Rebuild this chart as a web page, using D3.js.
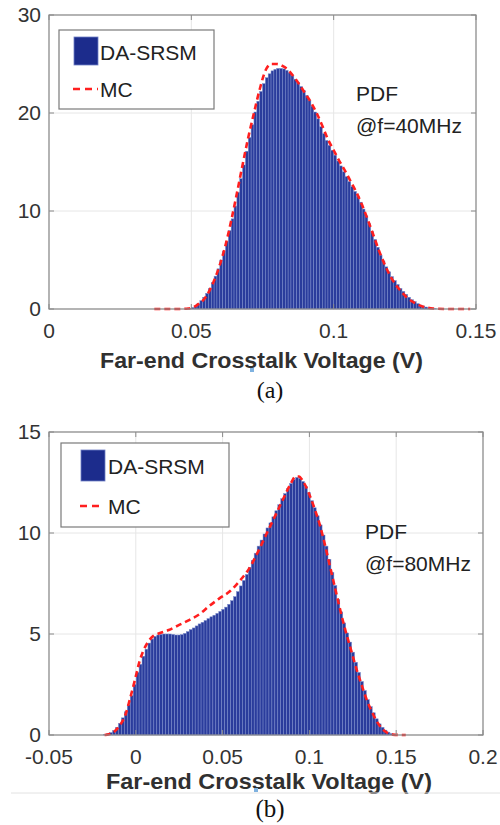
<!DOCTYPE html>
<html lang="en">
<head>
    <meta charset="UTF-8">
    <title>Far-end Crosstalk Voltage PDF</title>
    <script src="https://d3js.org/d3.v7.min.js"></script>
    <style>
        body {
            margin: 0;
            background-color: #ffffff;
            font-family: 'Liberation Sans', Arial, sans-serif;
        }
        .tick-label {
            font-size: 21px;
            fill: #333333;
        }
        .axis-title {
            font-size: 22px;
            font-weight: bold;
            fill: #303030;
        }
        .legend-text, .note {
            font-size: 21px;
            fill: #222222;
        }
        .caption {
            font-family: 'Liberation Serif', 'Times New Roman', serif;
            fill: #111111;
        }
    </style>
</head>
<body>
    <svg id="chart"></svg>

    <script>
        // (a) f = 40 MHz : DA-SRSM histogram, bins of 0.001 V starting at 0.049 V
        const pdf40BinStart = 0.049;
        const pdf40BinWidth = 0.001;
        const pdf40 = [
            0.05, 0.15, 0.3, 0.55, 0.85, 1.2, 1.6, 2.1, 2.7, 3.35,
            4.1, 5.0, 5.9, 6.9, 8.0, 9.2, 10.5, 11.9, 13.3, 14.7,
            16.1, 17.5, 18.8, 20.1, 21.2, 22.2, 23.0, 23.6, 24.0, 24.3,
            24.45, 24.55, 24.55, 24.5, 24.35, 24.1, 23.8, 23.45, 23.1, 22.7,
            22.3, 21.8, 21.3, 20.7, 20.1, 19.4, 18.6, 17.9, 17.2, 16.7,
            16.2, 15.7, 15.1, 14.6, 14.0, 13.5, 13.0, 12.5, 12.0, 11.5,
            10.9, 10.2, 9.5, 8.7, 7.9, 7.1, 6.3, 5.5, 4.9, 4.3,
            3.8, 3.3, 2.9, 2.5, 2.1, 1.8, 1.5, 1.2, 0.95, 0.75,
            0.55, 0.4, 0.3, 0.2, 0.12, 0.07, 0.03
        ];
        // (a) MC reference curve
        const mc40X = [0.037, 0.045, 0.049, 0.052, 0.055, 0.058, 0.060, 0.062, 0.064, 0.066,
            0.068, 0.070, 0.072, 0.074, 0.076, 0.078, 0.080, 0.082, 0.084, 0.086,
            0.088, 0.090, 0.092, 0.094, 0.096, 0.098, 0.100, 0.102, 0.104, 0.106,
            0.108, 0.110, 0.112, 0.114, 0.116, 0.118, 0.120, 0.122, 0.124, 0.126,
            0.128, 0.130, 0.132, 0.135, 0.140, 0.148];
        const mc40Y = [0, 0, 0.05, 0.4, 1.2, 2.9, 4.5, 6.5, 9.0, 11.8,
            14.7, 17.5, 20.0, 22.4, 24.3, 25.0, 25.0, 24.8, 24.4, 23.7,
            22.9, 22.0, 21.1, 20.0, 18.7, 17.3, 16.2, 15.1, 14.1, 13.0,
            11.9, 10.6, 9.1, 7.5, 5.9, 4.5, 3.3, 2.4, 1.7, 1.1,
            0.7, 0.4, 0.2, 0.05, 0, 0];
        const xTicks40 = [0, 0.05, 0.1, 0.15];
        const yTicks40 = [0, 10, 20, 30];

        // (b) f = 80 MHz : DA-SRSM histogram, bins of 0.0017 V starting at -0.0185 V
        const pdf80BinStart = -0.0185;
        const pdf80BinWidth = 0.0017;
        const pdf80 = [
            0.02, 0.06, 0.12, 0.22, 0.38, 0.58, 0.85, 1.15, 1.5, 1.95,
            2.5, 3.1, 3.5, 3.9, 4.25, 4.55, 4.75, 4.88, 4.95, 4.98,
            5.0, 5.0, 5.0, 4.98, 4.95, 4.95, 4.97, 5.03, 5.12, 5.22,
            5.3, 5.4, 5.5, 5.58, 5.67, 5.76, 5.85, 5.93, 6.02, 6.12,
            6.22, 6.33, 6.47, 6.65, 6.85, 7.1, 7.38, 7.65, 7.95, 8.3,
            8.65, 9.0, 9.35, 9.65, 9.95, 10.25, 10.5, 10.8, 11.1, 11.4,
            11.7, 11.95, 12.2, 12.45, 12.65, 12.75, 12.7, 12.55, 12.3, 12.0,
            11.6, 11.25, 10.85, 10.4, 9.9, 9.35, 8.7, 8.05, 7.4, 6.7,
            6.1, 5.55, 5.05, 4.6, 4.1, 3.6, 3.1, 2.65, 2.2, 1.75,
            1.4, 1.1, 0.8, 0.55, 0.38, 0.24, 0.14, 0.07, 0.03
        ];
        // (b) MC reference curve
        const mc80X = [-0.018, -0.015, -0.012, -0.009, -0.006, -0.003, 0.000, 0.002, 0.004, 0.007,
            0.010, 0.014, 0.019, 0.025, 0.031, 0.037, 0.0425, 0.048, 0.054, 0.058,
            0.0615, 0.065, 0.070, 0.075, 0.080, 0.085, 0.089, 0.092, 0.094, 0.096,
            0.098, 0.100, 0.103, 0.106, 0.109, 0.112, 0.115, 0.118, 0.121, 0.124,
            0.127, 0.130, 0.133, 0.136, 0.139, 0.142, 0.145, 0.148, 0.1555];
        const mc80Y = [0, 0.05, 0.2, 0.5, 1.0, 1.9, 2.9, 3.6, 4.1, 4.6,
            4.9, 5.05, 5.2, 5.45, 5.7, 6.0, 6.4, 6.75, 7.1, 7.45,
            7.8, 8.2, 9.0, 9.9, 10.8, 11.7, 12.4, 12.8, 12.8, 12.6,
            12.3, 11.9, 11.2, 10.4, 9.4, 8.3, 7.2, 6.1, 5.1, 4.2,
            3.3, 2.5, 1.75, 1.15, 0.65, 0.3, 0.1, 0.02, 0];
        const xTicks80 = [-0.05, 0, 0.05, 0.1, 0.15, 0.2];
        const yTicks80 = [0, 5, 10, 15];

        const legendLabels = ["DA-SRSM", "MC"];
        const xTitle = "Far-end Crosstalk Voltage (V)";

        const W = 500, H = 825;
        const svg = d3.select("#chart").attr("width", W).attr("height", H);

        function drawPanel(p) {
            const x = d3.scaleLinear().domain(p.xDomain).range([p.left, p.right]);
            const y = d3.scaleLinear().domain(p.yDomain).range([p.bottom, p.top]);
            const g = svg.append("g");

            // grid
            g.selectAll(".gx").data(p.xTicks).enter().append("line")
                .attr("x1", d => x(d)).attr("x2", d => x(d))
                .attr("y1", p.top).attr("y2", p.bottom)
                .attr("stroke", "#e6e6e6").attr("stroke-width", 1);
            g.selectAll(".gy").data(p.yTicks).enter().append("line")
                .attr("y1", d => y(d)).attr("y2", d => y(d))
                .attr("x1", p.left).attr("x2", p.right)
                .attr("stroke", "#e6e6e6").attr("stroke-width", 1);

            // histogram bars
            const bw = x(p.binWidth) - x(0);
            g.selectAll(".bar").data(p.bars).enter().append("rect")
                .attr("x", (d, i) => x(p.binStart + i * p.binWidth))
                .attr("y", d => y(d))
                .attr("width", bw)
                .attr("height", d => y(0) - y(d))
                .attr("fill", "#2a3c9c")
                .attr("stroke", "#7d8dcc")
                .attr("stroke-width", 0.5);

            // MC dashed curve
            const line = d3.line()
                .x((d, i) => x(p.mcX[i]))
                .y(d => y(d))
                .curve(d3.curveMonotoneX);
            g.append("path")
                .datum(p.mcY)
                .attr("d", line)
                .attr("fill", "none")
                .attr("stroke", "#ff1f1f")
                .attr("stroke-width", 2.6)
                .attr("stroke-dasharray", "6,4");

            // axes box
            g.append("rect")
                .attr("x", p.left).attr("y", p.top)
                .attr("width", p.right - p.left).attr("height", p.bottom - p.top)
                .attr("fill", "none").attr("stroke", "#8a8a8a").attr("stroke-width", 1.2);

            // inward ticks on all sides
            p.xTicks.forEach(t => {
                g.append("line").attr("x1", x(t)).attr("x2", x(t))
                    .attr("y1", p.bottom).attr("y2", p.bottom - 5).attr("stroke", "#8a8a8a");
                g.append("line").attr("x1", x(t)).attr("x2", x(t))
                    .attr("y1", p.top).attr("y2", p.top + 5).attr("stroke", "#8a8a8a");
            });
            p.yTicks.forEach(t => {
                g.append("line").attr("y1", y(t)).attr("y2", y(t))
                    .attr("x1", p.left).attr("x2", p.left + 5).attr("stroke", "#8a8a8a");
                g.append("line").attr("y1", y(t)).attr("y2", y(t))
                    .attr("x1", p.right).attr("x2", p.right - 5).attr("stroke", "#8a8a8a");
            });

            // tick labels
            g.selectAll(".xl").data(p.xTicks).enter().append("text")
                .attr("class", "tick-label")
                .attr("x", d => x(d)).attr("y", p.bottom + 29)
                .attr("text-anchor", "middle")
                .text(d => String(d));
            g.selectAll(".yl").data(p.yTicks).enter().append("text")
                .attr("class", "tick-label")
                .attr("x", p.left - 8).attr("y", d => y(d) + 7)
                .attr("text-anchor", "end")
                .text(d => String(d));

            // x axis title
            g.append("text")
                .attr("class", "axis-title")
                .attr("x", p.titleX).attr("y", p.titleY)
                .attr("textLength", p.titleLen)
                .attr("lengthAdjust", "spacingAndGlyphs")
                .text(xTitle);

            // legend
            const L = p.legend;
            g.append("rect")
                .attr("x", L.x).attr("y", L.y).attr("width", L.w).attr("height", L.h)
                .attr("fill", "#ffffff").attr("stroke", "#7a7a7a").attr("stroke-width", 1.2);
            g.append("rect")
                .attr("x", L.swX).attr("y", L.swY).attr("width", 24).attr("height", L.swH)
                .attr("fill", "#1c2c8c").attr("stroke", "#6f7fc6").attr("stroke-width", 0.8);
            g.append("text").attr("class", "legend-text")
                .attr("x", L.textX).attr("y", L.row1).text(legendLabels[0]);
            g.append("line")
                .attr("x1", L.dashX1).attr("x2", L.dashX2)
                .attr("y1", L.dashY).attr("y2", L.dashY)
                .attr("stroke", "#ff1f1f").attr("stroke-width", 2.6)
                .attr("stroke-dasharray", "7,5");
            g.append("text").attr("class", "legend-text")
                .attr("x", L.textX).attr("y", L.row2).text(legendLabels[1]);

            // annotation
            g.append("text").attr("class", "note")
                .attr("x", p.noteX).attr("y", p.noteY).text("PDF");
            g.append("text").attr("class", "note")
                .attr("x", p.noteX).attr("y", p.noteY + 32).text(p.note);

            // small marker artefact under the title
            g.append("rect")
                .attr("x", p.markX).attr("y", p.markY).attr("width", 4).attr("height", 4)
                .attr("fill", "#7fb2e0");

            // caption
            svg.append("text").attr("class", "caption")
                .attr("x", 270).attr("y", p.capY)
                .attr("text-anchor", "middle")
                .style("font-size", p.capSize + "px")
                .text(p.caption);
        }

        drawPanel({
            xDomain: [0, 0.15], yDomain: [0, 30],
            left: 49, right: 476, top: 15, bottom: 309,
            xTicks: xTicks40, yTicks: yTicks40,
            bars: pdf40, binStart: pdf40BinStart, binWidth: pdf40BinWidth,
            mcX: mc40X, mcY: mc40Y,
            titleX: 100, titleY: 368, titleLen: 323,
            legend: {x: 59, y: 30, w: 155, h: 79, swX: 74, swY: 37, swH: 28,
                     textX: 100, row1: 60, row2: 97, dashX1: 73, dashX2: 98, dashY: 89},
            noteX: 356, noteY: 101, note: "@f=40MHz",
            markX: 250, markY: 368,
            caption: "(a)", capY: 398, capSize: 24
        });

        drawPanel({
            xDomain: [-0.05, 0.2], yDomain: [0, 15],
            left: 49, right: 483, top: 432, bottom: 735,
            xTicks: xTicks80, yTicks: yTicks80,
            bars: pdf80, binStart: pdf80BinStart, binWidth: pdf80BinWidth,
            mcX: mc80X, mcY: mc80Y,
            titleX: 106, titleY: 789, titleLen: 326,
            legend: {x: 61, y: 443, w: 168, h: 84, swX: 81, swY: 450, swH: 31,
                     textX: 108, row1: 474, row2: 514, dashX1: 80, dashX2: 101, dashY: 506},
            noteX: 365, noteY: 539, note: "@f=80MHz",
            markX: 254, markY: 788,
            caption: "(b)", capY: 817, capSize: 25
        });

        // faint separator under the lower panel
        svg.append("line")
            .attr("x1", 11).attr("x2", 500).attr("y1", 793).attr("y2", 793)
            .attr("stroke", "#e2e2e2").attr("stroke-width", 1);
    </script>
</body>
</html>
